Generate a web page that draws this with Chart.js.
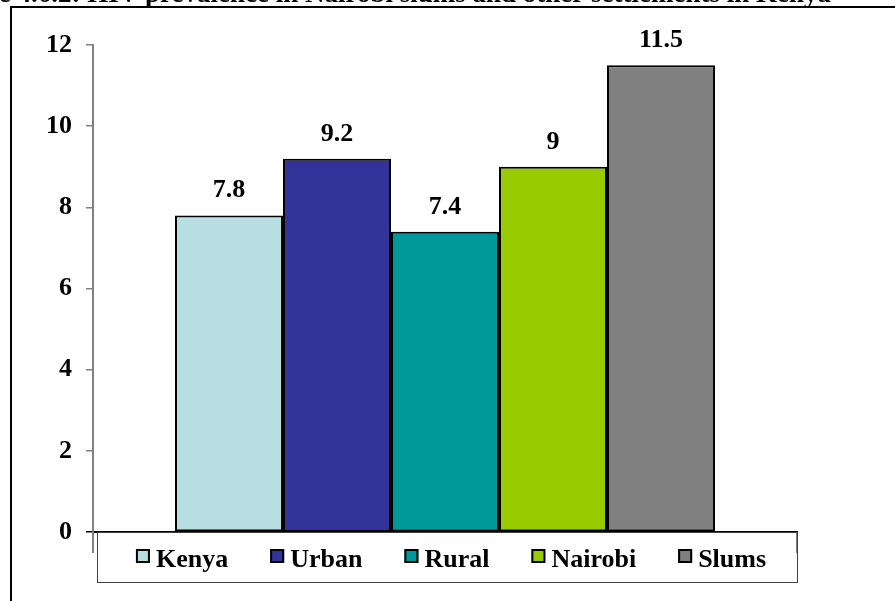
<!DOCTYPE html>
<html>
<head>
<meta charset="utf-8">
<script src="https://cdn.jsdelivr.net/npm/chart.js@4/dist/chart.umd.min.js"></script>
<style>
  html, body { margin: 0; padding: 0; background: #ffffff; }
  #wrap { width: 895px; height: 601px; position: relative; overflow: hidden; }
</style>
</head>
<body>
<div id="wrap"><canvas id="chart" width="895" height="601"></canvas></div>
<script>
// HIV prevalence (%) by settlement type
const titleText = 'Figure 4.6.2: HIV prevalence in Nairobi slums and other settlements in Kenya';
const settlements = ['Kenya', 'Urban', 'Rural', 'Nairobi', 'Slums'];
const prevalence = [7.8, 9.2, 7.4, 9, 11.5];
const yTickValues = [0, 2, 4, 6, 8, 10, 12];

// fill colours for each settlement bar
const barColours = ['#B7DFE2', '#333399', '#009999', '#99CC00', '#808080'];

const FONT = "'Liberation Serif', 'Times New Roman', serif";
Chart.defaults.font.family = FONT;
Chart.defaults.font.weight = 'bold';
Chart.defaults.color = '#000';

const datasets = settlements.map((name, i) => ({
  label: name,
  data: [prevalence[i]],
  backgroundColor: barColours[i],
  borderColor: '#000',
  borderWidth: 2,
  borderSkipped: false,
  barPercentage: 1,
  categoryPercentage: 0.767
}));

const decor = {
  id: 'decor',
  beforeDraw(chart) {
    const ctx = chart.ctx;
    ctx.save();
    ctx.fillStyle = '#fff';
    ctx.fillRect(0, 0, chart.width, chart.height);
    ctx.restore();
  },
  afterDraw(chart) {
    const ctx = chart.ctx;
    const a = chart.chartArea;
    ctx.save();

    // caption, mostly above the frame
    ctx.font = `bold 27px ${FONT}`;
    ctx.fillStyle = '#000';
    ctx.textAlign = 'left';
    ctx.textBaseline = 'alphabetic';
    const prefixW = ctx.measureText('Figure 4.6.2: HIV ').width;
    ctx.fillText(titleText, 145 - prefixW, 1.5);

    // outer frame
    ctx.strokeStyle = '#000';
    ctx.lineWidth = 2;
    ctx.beginPath();
    ctx.moveTo(11, chart.height + 10);
    ctx.lineTo(11, 7);
    ctx.lineTo(chart.width + 10, 7);
    ctx.stroke();

    // value labels above bars
    ctx.font = `bold 26px ${FONT}`;
    ctx.textAlign = 'center';
    chart.data.datasets.forEach((ds, i) => {
      chart.getDatasetMeta(i).data.forEach((bar, j) => {
        ctx.fillText(String(ds.data[j]), bar.x, bar.y - 18);
      });
    });

    // axis stub continuing below the baseline
    ctx.strokeStyle = '#808080';
    ctx.lineWidth = 2;
    ctx.beginPath();
    ctx.moveTo(a.left, a.bottom);
    ctx.lineTo(a.left, a.bottom + 21);
    ctx.moveTo(a.right, a.bottom);
    ctx.lineTo(a.right, a.bottom + 21);
    ctx.stroke();

    // legend box
    const boxL = a.left + 4, boxT = a.bottom, boxR = a.right, boxB = a.bottom + 50;
    ctx.strokeStyle = '#404040';
    ctx.lineWidth = 1;
    ctx.strokeRect(boxL + 0.5, boxT + 0.5, boxR - boxL, boxB - boxT);

    // legend entries
    const sw = 14, gapText = 6, gapItem = 42;
    const widths = chart.data.datasets.map(ds => sw + gapText + ctx.measureText(ds.label).width);
    const total = widths.reduce((s, w) => s + w, 0) + gapItem * (widths.length - 1);
    let x = (a.left + a.right) / 2 + 6 - total / 2;
    const base = a.bottom + 35;
    ctx.textAlign = 'left';
    chart.data.datasets.forEach((ds, i) => {
      ctx.fillStyle = ds.backgroundColor;
      ctx.fillRect(x, base - 18, sw, sw);
      ctx.strokeStyle = '#000';
      ctx.lineWidth = 2;
      ctx.strokeRect(x + 1, base - 17, sw - 2, sw - 2);
      ctx.fillStyle = '#000';
      ctx.fillText(ds.label, x + sw + gapText, base);
      x += widths[i] + gapItem;
    });

    ctx.restore();
  }
};

new Chart(document.getElementById('chart'), {
  type: 'bar',
  data: { labels: [''], datasets },
  options: {
    responsive: false,
    animation: false,
    layout: { padding: { left: 0, top: 45, right: 98, bottom: 69 } },
    plugins: {
      legend: { display: false },
      tooltip: { enabled: false },
      title: { display: false }
    },
    scales: {
      x: {
        ticks: { display: false },
        grid: { display: false },
        border: { display: true, color: '#000', width: 2 },
        afterFit(scale) { scale.height = 0; }
      },
      y: {
        min: 0,
        max: 12,
        afterBuildTicks(scale) { scale.ticks = yTickValues.map(v => ({ value: v })); },
        ticks: {
          padding: 14,
          font: { size: 26, weight: 'bold', family: FONT },
          color: '#000'
        },
        grid: {
          drawOnChartArea: false,
          drawTicks: true,
          tickLength: 7,
          color: ctx => (ctx.tick && ctx.tick.value === 0 ? '#000' : '#808080'),
          lineWidth: 1.5
        },
        border: { display: true, color: '#808080', width: 2 },
        afterFit(scale) { scale.width = 93; }
      }
    }
  },
  plugins: [decor]
});
</script>
</body>
</html>
